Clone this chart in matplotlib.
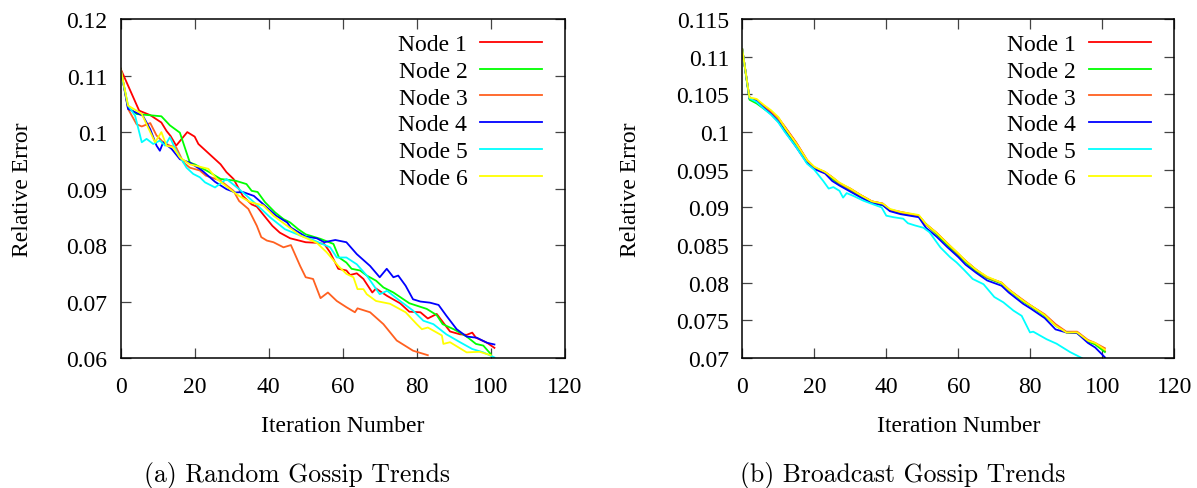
import numpy as np
import matplotlib.pyplot as plt
from matplotlib.ticker import FuncFormatter, MultipleLocator

plt.rcParams['font.family'] = ['Liberation Serif', 'DejaVu Serif']

colors = ['#ff0000', '#00ff00', '#ff6020', '#0000ff', '#00ffff', '#ffff00']
labels = ['Node 1', 'Node 2', 'Node 3', 'Node 4', 'Node 5', 'Node 6']

# (a) random gossip
rx1 = [0, 5, 8, 11, 12.4, 13.5, 15, 18, 20, 21, 24, 27, 28.6, 30.5, 33, 35.4, 36.8, 41, 43, 45.8, 50, 53, 55,
       56.6, 58.8, 61, 62, 63.8, 65.6, 68, 69, 72, 75.5, 78, 81, 83, 85.4, 89, 91.7, 93.5, 95, 96, 99, 101]
ry1 = [0.1112, 0.1038, 0.1030, 0.1017, 0.1002, 0.0993, 0.0976, 0.1000, 0.0992, 0.0979, 0.0961, 0.0943, 0.0929,
       0.0917, 0.0887, 0.0872, 0.0868, 0.0834, 0.0822, 0.0812, 0.0805, 0.0804, 0.0802, 0.0787, 0.0758, 0.0755,
       0.0747, 0.0750, 0.0740, 0.0716, 0.0723, 0.0710, 0.0697, 0.0682, 0.0681, 0.0670, 0.0678, 0.0647, 0.0642,
       0.0641, 0.0645, 0.0636, 0.0627, 0.0618]
rx2 = [0, 2, 4.3, 11, 13.3, 16, 18.7, 20, 24, 27, 31, 34, 35.4, 37, 39, 41.7, 44, 45.8, 48, 50, 54, 57.5, 59, 61,
       62.4, 64.7, 66.5, 69, 71, 73.7, 78, 82.7, 85.4, 87, 90, 93.5, 96, 98, 100]
ry2 = [0.1112, 0.1044, 0.1032, 0.1028, 0.1012, 0.0999, 0.0946, 0.0943, 0.0929, 0.0917, 0.0914, 0.0908, 0.0896,
       0.0894, 0.0876, 0.0858, 0.0846, 0.0840, 0.0828, 0.0819, 0.0811, 0.0802, 0.0778, 0.0769, 0.0758, 0.0755,
       0.0746, 0.0737, 0.0725, 0.0716, 0.0697, 0.0687, 0.0676, 0.0660, 0.0651, 0.0638, 0.0625, 0.0622, 0.0607]
rx3 = [0, 2, 4.3, 5.7, 8, 9.7, 11.5, 13.3, 15, 17, 18.7, 21.4, 23, 27, 30.5, 32, 34.5, 36.8, 38, 39.5, 41.3, 44,
       46, 48.5, 50, 52, 54, 56, 58.4, 61, 63.3, 64, 67.4, 71, 74.6, 79, 83]
ry3 = [0.1112, 0.1041, 0.1014, 0.1010, 0.1016, 0.0994, 0.0982, 0.0976, 0.0973, 0.0946, 0.0937, 0.0932, 0.0923,
       0.0914, 0.0896, 0.0878, 0.0864, 0.0834, 0.0814, 0.0808, 0.0805, 0.0796, 0.0800, 0.0763, 0.0743, 0.0740,
       0.0706, 0.0716, 0.0701, 0.0690, 0.0681, 0.0688, 0.0681, 0.0660, 0.0631, 0.0613, 0.0605]
rx4 = [0, 2, 6, 8, 9.7, 10.6, 11.5, 13.8, 16, 18.7, 22, 25.5, 28.6, 31, 33, 36, 38.6, 42, 45, 46, 50, 53, 55, 58,
       61, 63.8, 67.4, 70, 71.9, 73.7, 75, 77, 79, 81, 83.6, 85.9, 88, 90.8, 93.5, 96.2, 99, 101]
ry4 = [0.1112, 0.1041, 0.1029, 0.1005, 0.0976, 0.0967, 0.0982, 0.0970, 0.0952, 0.0946, 0.0932, 0.0912, 0.0899,
       0.0893, 0.0894, 0.0887, 0.0872, 0.0852, 0.0840, 0.0831, 0.0815, 0.0812, 0.0805, 0.0809, 0.0805, 0.0784,
       0.0763, 0.0743, 0.0758, 0.0743, 0.0746, 0.0728, 0.0704, 0.0700, 0.0698, 0.0694, 0.0675, 0.0651, 0.0638,
       0.0636, 0.0627, 0.0624]
rx5 = [0, 2, 3.9, 5.7, 7, 8.8, 10.6, 12, 13.3, 15, 17.8, 19.6, 21.4, 22.8, 25.5, 28.6, 32, 36, 40.4, 44.4, 48.5,
       52, 56.6, 58.4, 61, 63.8, 66.5, 70, 72, 75.5, 79, 81.8, 84.5, 88, 91.7, 95, 98, 101]
ry5 = [0.1109, 0.1047, 0.1029, 0.0982, 0.0988, 0.0979, 0.0985, 0.0976, 0.0991, 0.0967, 0.0937, 0.0926, 0.0920,
       0.0911, 0.0902, 0.0917, 0.0899, 0.0876, 0.0849, 0.0828, 0.0817, 0.0809, 0.0796, 0.0778, 0.0778, 0.0766,
       0.0746, 0.0713, 0.0719, 0.0701, 0.0684, 0.0666, 0.0660, 0.0642, 0.0628, 0.0616, 0.0610, 0.0601]
rx6 = [0, 2, 4.3, 5.7, 9.3, 11, 12.4, 14.2, 16, 18.7, 23.7, 26, 29.5, 32, 35, 38.6, 41.3, 45, 48.5, 53, 55.7,
       58.8, 61, 62.9, 64, 65.6, 66.5, 69, 72.8, 77, 80, 81.4, 83, 86.8, 87.2, 89, 93.5, 97, 100]
ry6 = [0.1112, 0.1047, 0.1038, 0.1032, 0.0982, 0.1000, 0.0976, 0.0973, 0.0955, 0.0943, 0.0935, 0.0917, 0.0899,
       0.0887, 0.0876, 0.0870, 0.0852, 0.0834, 0.0817, 0.0804, 0.0787, 0.0763, 0.0749, 0.0743, 0.0722, 0.0722,
       0.0713, 0.0701, 0.0696, 0.0681, 0.0660, 0.0651, 0.0654, 0.0640, 0.0625, 0.0628, 0.0610, 0.0611, 0.0605]

# (b) broadcast gossip
bx = [0, 2, 4, 6, 8, 10, 12, 15, 18, 20, 23, 25, 27, 30, 33, 36, 39, 41, 44, 49, 51, 54, 57, 60, 62, 65, 68, 72,
      74, 78, 80, 84, 87, 90, 93, 96, 98, 100.7]
by1 = [0.1110, 0.1045, 0.1042, 0.1034, 0.1027, 0.1019, 0.1006, 0.0986, 0.0963, 0.0953, 0.0947, 0.0940, 0.0932,
       0.0925, 0.0916, 0.0908, 0.0905, 0.0897, 0.0894, 0.0889, 0.0878, 0.0866, 0.0852, 0.0838, 0.0829, 0.0817,
       0.0807, 0.0800, 0.0791, 0.0776, 0.0770, 0.0757, 0.0744, 0.0734, 0.0734, 0.0723, 0.0719, 0.0709]
by2 = [0.1110, 0.1043, 0.1038, 0.1031, 0.1024, 0.1014, 0.1002, 0.0983, 0.0961, 0.0952, 0.0946, 0.0938, 0.0930,
       0.0923, 0.0914, 0.0906, 0.0903, 0.0896, 0.0892, 0.0888, 0.0878, 0.0864, 0.0850, 0.0836, 0.0827, 0.0815,
       0.0806, 0.0799, 0.0790, 0.0775, 0.0769, 0.0756, 0.0743, 0.0734, 0.0733, 0.0722, 0.0718, 0.0708]
by3 = [0.1110, 0.1045, 0.1042, 0.1033, 0.1026, 0.1018, 0.1005, 0.0985, 0.0962, 0.0953, 0.0946, 0.0940, 0.0932,
       0.0924, 0.0916, 0.0908, 0.0905, 0.0897, 0.0893, 0.0889, 0.0877, 0.0866, 0.0852, 0.0838, 0.0829, 0.0817,
       0.0807, 0.0800, 0.0791, 0.0777, 0.0770, 0.0758, 0.0745, 0.0735, 0.0735, 0.0724, 0.0720, 0.0713]
by4 = [0.1110, 0.1045, 0.1041, 0.1032, 0.1024, 0.1014, 0.1000, 0.0980, 0.0959, 0.0951, 0.0945, 0.0935, 0.0929,
       0.0921, 0.0913, 0.0906, 0.0903, 0.0895, 0.0891, 0.0887, 0.0873, 0.0861, 0.0847, 0.0834, 0.0824, 0.0813,
       0.0803, 0.0796, 0.0787, 0.0772, 0.0766, 0.0753, 0.0738, 0.0734, 0.0733, 0.0720, 0.0714, 0.0701]
by6 = [0.1110, 0.1046, 0.1044, 0.1036, 0.1029, 0.1020, 0.1005, 0.0985, 0.0963, 0.0954, 0.0947, 0.0940, 0.0933,
       0.0925, 0.0916, 0.0908, 0.0905, 0.0898, 0.0894, 0.0890, 0.0878, 0.0866, 0.0852, 0.0839, 0.0829, 0.0817,
       0.0808, 0.0800, 0.0791, 0.0776, 0.0770, 0.0757, 0.0743, 0.0734, 0.0734, 0.0723, 0.0720, 0.0711]
bx5 = [0, 2, 4, 6, 8, 10, 12, 15, 18, 20, 22.5, 24, 25.3, 27, 28, 29, 31, 33.6, 36.4, 38.7, 40, 42, 44.7, 46, 48,
       50.3, 52, 55, 57.7, 59.5, 61.4, 64, 67, 70, 72.5, 75.3, 77.6, 79.9, 80.8, 84.5, 87.3, 91, 94.3, 95]
by5 = [0.1110, 0.1045, 0.1040, 0.1031, 0.1023, 0.1013, 0.0999, 0.0980, 0.0958, 0.0950, 0.0935, 0.0925, 0.0927,
       0.0922, 0.0913, 0.0919, 0.0915, 0.0909, 0.0904, 0.0900, 0.0889, 0.0887, 0.0885, 0.0879, 0.0876, 0.0873,
       0.0867, 0.0847, 0.0834, 0.0827, 0.0818, 0.0805, 0.0798, 0.0781, 0.0774, 0.0763, 0.0756, 0.0734, 0.0735,
       0.0725, 0.0719, 0.0708, 0.0700, 0.0697]

random_series = [(rx1, ry1), (rx2, ry2), (rx3, ry3), (rx4, ry4), (rx5, ry5), (rx6, ry6)]
broadcast_series = [(bx, by1), (bx, by2), (bx, by3), (bx, by4), (bx5, by5), (bx, by6)]

fs = 17

fig = plt.figure(figsize=(11.97, 4.89), dpi=100)
ax1 = fig.add_axes([0.1008, 0.2658, 0.371, 0.693])
ax2 = fig.add_axes([0.6201, 0.2658, 0.361, 0.693])


def style(ax, ymin, ymax, ystep, ylab_x, leg_x):
    ax.set_xlim(0, 120)
    ax.set_ylim(ymin, ymax)
    ax.xaxis.set_major_locator(MultipleLocator(20))
    ax.yaxis.set_major_locator(MultipleLocator(ystep))
    ax.yaxis.set_major_formatter(FuncFormatter(lambda v, _: f'{v:g}'))
    ax.tick_params(direction='in', length=7.5, width=0.9, top=True, right=True,
                   labelsize=fs, color='#444444')
    ax.tick_params(axis='x', pad=13)
    ax.tick_params(axis='y', pad=9.5)
    for s in ax.spines.values():
        s.set_linewidth(1.1)
    ax.set_xlabel('Iteration Number', fontsize=fs, va='center')
    ax.set_ylabel('Relative Error', fontsize=fs, va='center')
    ax.xaxis.set_label_coords(0.5, -0.2)
    ax.yaxis.set_label_coords(ylab_x, 0.5)
    ax.legend(loc='upper right', bbox_to_anchor=(leg_x, 0.957), frameon=False, markerfirst=False,
              fontsize=fs, handlelength=2.6, handletextpad=0.55, labelspacing=0.22,
              borderaxespad=0.0, borderpad=0.0)


for ax, data in [(ax1, random_series), (ax2, broadcast_series)]:
    for (x, y), c, lab in zip(data, colors, labels):
        ax.plot(x, y, color=c, lw=1.3, label=lab)

style(ax1, 0.06, 0.12, 0.01, -0.221, 0.948)
style(ax2, 0.07, 0.115, 0.005, -0.258, 0.945)

fig.text(0.248, 0.0286, '(a) Random Gossip Trends', family='cmr10', fontsize=18.5, ha='center', va='center')
fig.text(0.7544, 0.0286, '(b) Broadcast Gossip Trends', family='cmr10', fontsize=18.5, ha='center', va='center')

fig.savefig('out.png', dpi=100)
